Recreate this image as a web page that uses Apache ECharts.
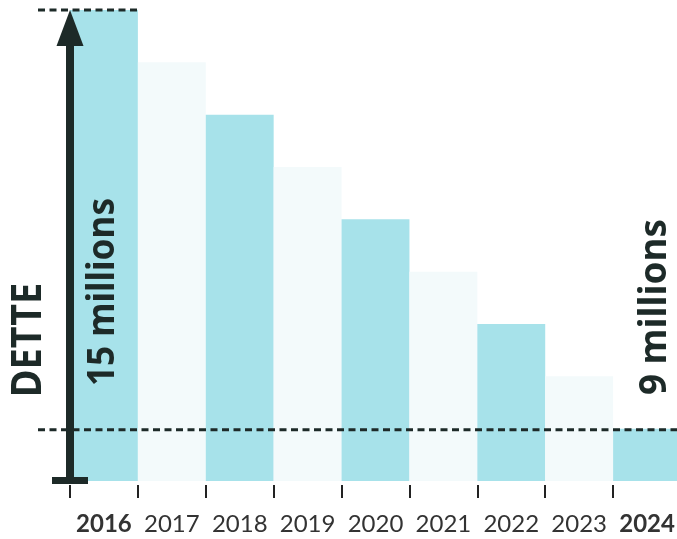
<!DOCTYPE html>
<html>
<head>
<meta charset="utf-8">
<script src="https://cdn.jsdelivr.net/npm/echarts@6/dist/echarts.min.js"></script>
<style>
html,body{margin:0;padding:0;background:#fff;}
#c{width:677px;height:539px;}
</style>
</head>
<body>
<div id="c"></div>
<script>
const years = ['2016','2017','2018','2019','2020','2021','2022','2023','2024'];
const debt = [15, 14.25, 13.5, 12.75, 12, 11.25, 10.5, 9.75, 9];
const boldYears = ['2016','2024'];
const startLabel = '15 millions';
const endLabel = '9 millions';
const axisTitle = 'DETTE';

const CYAN = '#a7e2ea';
const PALE = '#f3fafb';
const DARK = '#1d2a28';

const chart = echarts.init(document.getElementById('c'), null, {renderer: 'canvas'});
chart.setOption({
  animation: false,
  backgroundColor: '#ffffff',
  grid: {left: 70, width: 611, top: 10, bottom: 58, outerBoundsMode: 'none', containLabel: false},
  xAxis: {
    type: 'category',
    data: years,
    offset: 4,
    axisLine: {show: false},
    axisTick: {show: true, interval: 0, length: 13, lineStyle: {color: '#222', width: 2}},
    axisLabel: {
      interval: 0,
      margin: 27,
      fontFamily: 'Lato',
      fontSize: 24,
      color: '#333',
      formatter: v => boldYears.includes(v) ? '{b|' + v + '}' : v,
      rich: {b: {fontFamily: 'Lato', fontSize: 24, fontWeight: 'bold', color: '#333'}}
    }
  },
  yAxis: {type: 'value', min: 8.25, max: 15, show: false},
  series: [{
    type: 'bar',
    barCategoryGap: 0,
    data: debt.map((v, i) => ({value: v, itemStyle: {color: i % 2 === 0 ? CYAN : PALE}}))
  }]
});

// annotations positioned via the chart's own scales
const p0 = chart.convertToPixel({xAxisIndex: 0, yAxisIndex: 0}, [0, debt[0]]);
const p1 = chart.convertToPixel({xAxisIndex: 0, yAxisIndex: 0}, [1, debt[0]]);
const band = p1[0] - p0[0];
const left0 = p0[0] - band / 2;
const yTop = p0[1];
const yBase = chart.convertToPixel({yAxisIndex: 0}, 8.25);
const last = years.length - 1;
const pEnd = chart.convertToPixel({xAxisIndex: 0, yAxisIndex: 0}, [last, debt[last]]);
const yEnd = pEnd[1];
const dash = {stroke: DARK, lineWidth: 3, lineDash: [7, 4.5]};

const textStyle = (t, size) => ({text: t, fill: DARK, font: 'bold ' + size + 'px "Noto Sans"', align: 'center', verticalAlign: 'middle'});

chart.setOption({
  graphic: [
    {type: 'line', shape: {x1: 38, y1: yTop, x2: left0 + band, y2: yTop}, style: dash, z: 10},
    {type: 'line', shape: {x1: 38, y1: yEnd + 1, x2: 677, y2: yEnd + 1}, style: dash, z: 10},
    {type: 'line', shape: {x1: left0, y1: yBase, x2: left0, y2: yTop + 35}, style: {stroke: DARK, lineWidth: 8}, z: 11},
    {type: 'polygon', shape: {points: [[left0, yTop], [left0 - 13.5, yTop + 36], [left0 + 13.5, yTop + 36]]}, style: {fill: DARK}, z: 11},
    {type: 'rect', shape: {x: left0 - 18, y: yBase - 4, width: 36, height: 7}, style: {fill: DARK}, z: 11},
    {type: 'text', x: 29, y: 340, rotation: Math.PI / 2, scaleX: 0.9, style: textStyle(axisTitle, 42), z: 12},
    {type: 'text', x: p0[0], y: 292, rotation: Math.PI / 2, scaleX: 0.95, style: textStyle(startLabel, 37), z: 12},
    {type: 'text', x: pEnd[0] + 8, y: 307, rotation: Math.PI / 2, scaleX: 0.97, style: textStyle(endLabel, 38), z: 12}
  ]
});
</script>
</body>
</html>
